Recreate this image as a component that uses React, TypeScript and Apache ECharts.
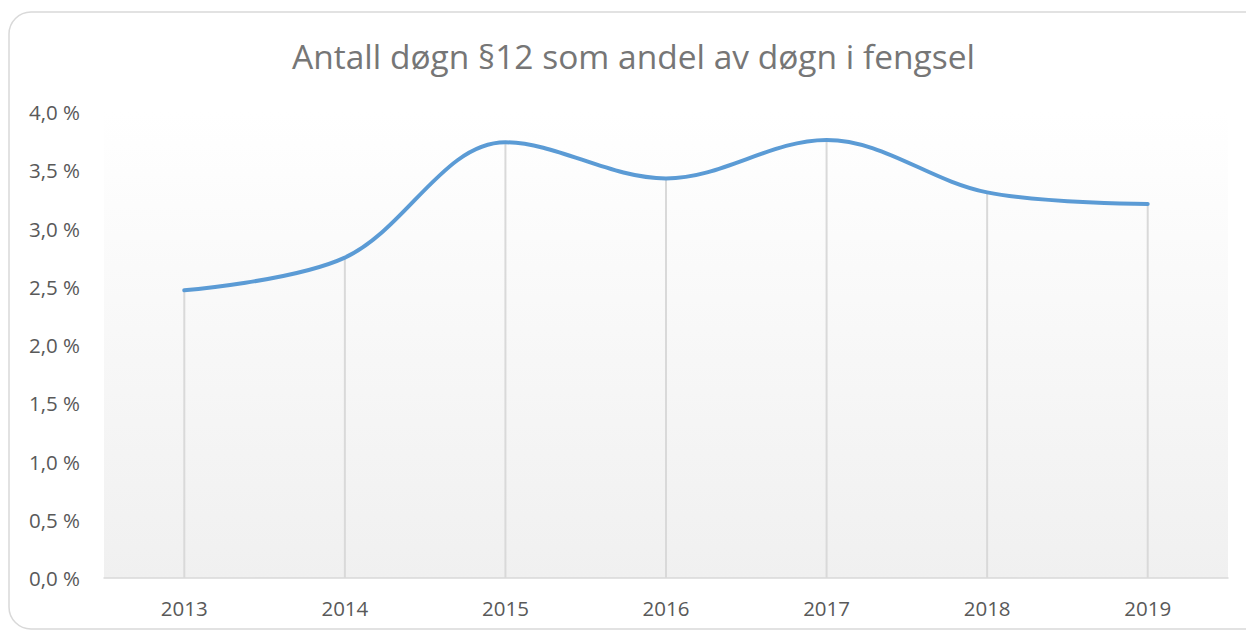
import React, { useEffect, useRef } from "react";
import * as echarts from "echarts";

const title = "Antall døgn §12 som andel av døgn i fengsel";
const years = ["2013", "2014", "2015", "2016", "2017", "2018", "2019"];
const shares = [2.47, 2.75, 3.74, 3.43, 3.76, 3.31, 3.21];

export default function App() {
  const ref = useRef<HTMLDivElement>(null);
  useEffect(() => {
    const chart = echarts.init(ref.current!, null, { renderer: "svg" });
    const font = "'Open Sans', 'Noto Sans', sans-serif";
    chart.setOption({
      animation: false,
      backgroundColor: "#ffffff",
      graphic: [
        {
          type: "rect",
          z: -10,
          shape: { x: 9, y: 12, width: 1260, height: 617, r: 22 },
          style: { fill: "#ffffff", stroke: "#d9d9d9", lineWidth: 1.5 },
        },
      ],
      title: {
        text: title,
        left: 287,
        top: 34,
        textStyle: { fontFamily: font, fontSize: 33.5, fontWeight: "normal", color: "#767676" },
      },
      grid: {
        left: 104,
        right: 18,
        top: 112,
        bottom: 54,
        show: true,
        borderWidth: 0,
        backgroundColor: new echarts.graphic.LinearGradient(0, 0, 0, 1, [
          { offset: 0, color: "#ffffff" },
          { offset: 1, color: "#f0f0f0" },
        ]),
      },
      xAxis: {
        type: "category",
        data: years,
        boundaryGap: true,
        axisLine: { lineStyle: { color: "#d9d9d9", width: 1.5 } },
        axisTick: { show: false },
        axisLabel: { color: "#595959", fontSize: 20.5, fontFamily: font, margin: 19 },
      },
      yAxis: {
        type: "value",
        min: 0,
        max: 4,
        interval: 0.5,
        axisLine: { show: false },
        axisTick: { show: false },
        splitLine: { show: false },
        axisLabel: {
          color: "#595959",
          fontSize: 20.5,
          fontFamily: font,
          margin: 24,
          formatter: (v: number) => v.toFixed(1).replace(".", ",") + " %",
        },
      },
      series: [
        {
          type: "bar",
          data: shares,
          barWidth: 2,
          itemStyle: { color: "#d9d9d9" },
          z: 1,
          silent: true,
        },
        {
          type: "line",
          data: shares,
          smooth: 0.35,
          showSymbol: false,
          lineStyle: { color: "#5b9bd5", width: 4, cap: "round" },
          z: 3,
        },
      ],
    });
    return () => chart.dispose();
  }, []);
  return (
    <div
      ref={ref}
      style={{ position: "absolute", left: 0, top: 0, width: 1246, height: 632 }}
    />
  );
}
